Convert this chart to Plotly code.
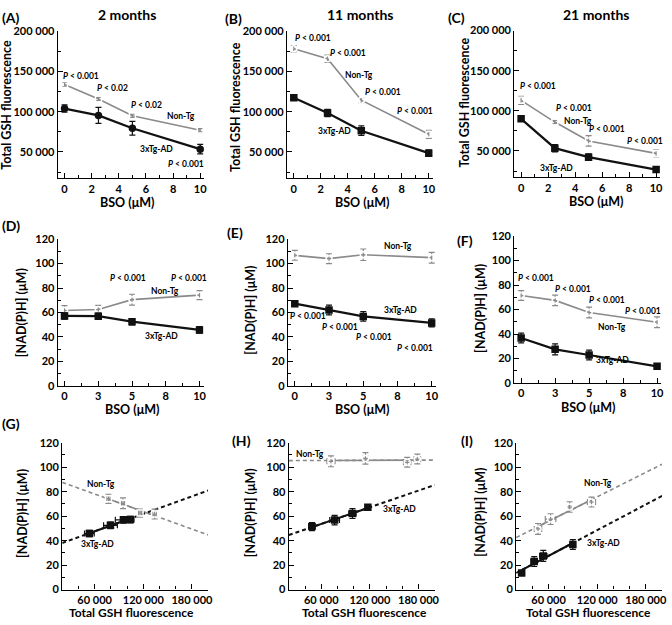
import numpy as np
import plotly.graph_objects as go

W, H = 672, 625
FONT = "Lato"

# ---------------- data ----------------
bso = [0, 2.5, 5, 10]

# Total GSH fluorescence (panels A-C)
gsh_nontg_2m = [134000, 116000, 95000, 77000]
gsh_nontg_2m_err = [2500, 2000, 2000, 2000]
gsh_tg_2m = [104000, 95500, 79500, 53500]
gsh_tg_2m_err = [4500, 10000, 8500, 6000]

gsh_nontg_11m = [178500, 166000, 114500, 72000]
gsh_nontg_11m_err = [4000, 4500, 3000, 5000]
gsh_tg_11m = [117500, 98500, 76500, 48500]
gsh_tg_11m_err = [2000, 4500, 6000, 4000]

gsh_nontg_21m = [113000, 86000, 62500, 47000]
gsh_nontg_21m_err = [5000, 2000, 6500, 4500]
gsh_tg_21m = [90000, 53500, 42300, 26800]
gsh_tg_21m_err = [2000, 4500, 4000, 3500]

# [NAD(P)H] (uM) (panels D-F)
nad_nontg_2m = [61.7, 62.5, 70.5, 74.2]
nad_nontg_2m_err = [4.0, 3.3, 4.4, 3.7]
nad_tg_2m = [57.2, 57.0, 52.5, 45.8]
nad_tg_2m_err = [2.6, 2.6, 2.6, 2.6]

nad_nontg_11m = [106.7, 104.0, 107.2, 104.8]
nad_nontg_11m_err = [4.0, 4.0, 4.7, 4.4]
nad_tg_11m = [67.2, 62.1, 56.8, 51.5]
nad_tg_11m_err = [2.0, 4.0, 3.9, 3.3]

nad_nontg_21m = [71.5, 67.5, 57.6, 49.6]
nad_nontg_21m_err = [4.0, 4.3, 4.4, 4.4]
nad_tg_21m = [36.8, 27.5, 22.9, 13.6]
nad_tg_21m_err = [4.0, 4.5, 4.0, 1.0]

titles = ["2 months", "11 months", "21 months"]
panel_letters = ["(A)", "(B)", "(C)", "(D)", "(E)", "(F)", "(G)", "(H)", "(I)"]

gsh_ticks = [50000, 100000, 150000, 200000]
gsh_ticktext = ["50 000", "100 000", "150 000", "200 000"]
gsh_minor = [25000, 75000, 125000, 175000]
nad_ticks = [0, 20, 40, 60, 80, 100, 120]
nad_minor = [10, 30, 50, 70, 90, 110]
bso_ticks_top = [0, 2, 4, 6, 8, 10]
bso_minor_top = [1, 3, 5, 7, 9]
bso_ticks_mid = [0, 2.5, 5, 7.5, 10]
bso_ticktext_mid = ["0", "3", "5", "8", "10"]
bso_minor_mid = [1.25, 3.75, 6.25, 8.75]
fl_ticks = [60000, 120000, 180000]
fl_ticktext = ["60 000", "120 000", "180 000"]
fl_minor = [40000, 80000, 100000, 140000, 160000, 200000]

GRAY = "#8a8a8a"
BLACK = "#111111"

# ---------------- layout geometry (pixels) ----------------
# each: (x_left, x_right, y_top, y_bottom)
geom = [
    (58.2, 205.8, 25, 175.1), (289.2, 436.1, 25, 175.1), (518.2, 665.1, 24, 174.1),
    (58.2, 205.1, 237, 387), (290.1, 439.1, 237, 387), (518.2, 666.1, 234, 384),
    (62.7, 209.7, 445, 595), (291, 438, 445, 595), (520, 667, 445, 595),
]

fig = go.Figure()
layout = {}

def axis_common():
    return dict(showline=True, linecolor="black", linewidth=1.3, ticks="inside",
                ticklen=5, tickwidth=1.3, tickcolor="black", showgrid=False,
                zeroline=False, mirror=False, fixedrange=True,
                tickfont=dict(family=FONT, size=11, color="black", weight="bold"))

def minor(vals):
    return dict(tickmode="array", tickvals=vals, ticks="inside", ticklen=3,
                tickwidth=1, tickcolor="black")

for i, (xl, xr, yt, yb) in enumerate(geom):
    n = i + 1
    xk = "xaxis" if n == 1 else f"xaxis{n}"
    yk = "yaxis" if n == 1 else f"yaxis{n}"
    xa = axis_common()
    ya = axis_common()
    xa.update(domain=[xl / W, xr / W], anchor="y" if n == 1 else f"y{n}")
    ya.update(domain=[1 - yb / H, 1 - yt / H], anchor="x" if n == 1 else f"x{n}")
    row = i // 3
    if row == 0:
        xa.update(range=[-0.5, 10.3], tickmode="array", tickvals=bso_ticks_top,
                  minor=minor(bso_minor_top))
        ya.update(range=[17000, 200000], tickmode="array", tickvals=gsh_ticks,
                  ticktext=gsh_ticktext, minor=minor(gsh_minor))
    elif row == 1:
        xa.update(range=[-0.5, 10.3], tickmode="array", tickvals=bso_ticks_mid,
                  ticktext=bso_ticktext_mid, minor=minor(bso_minor_mid))
        ya.update(range=[0, 120], tickmode="array", tickvals=nad_ticks,
                  minor=minor(nad_minor))
    else:
        xa.update(range=[20000, 200000], tickmode="array", tickvals=fl_ticks,
                  ticktext=fl_ticktext, minor=minor(fl_minor))
        ya.update(range=[0, 120], tickmode="array", tickvals=nad_ticks,
                  minor=minor(nad_minor))
    layout[xk] = xa
    layout[yk] = ya

def refs(n):
    return ("x" if n == 1 else f"x{n}", "y" if n == 1 else f"y{n}")

def line_trace(n, x, y, err, color, width, symbol, xerr=None, mode="lines+markers"):
    xr_, yr_ = refs(n)
    tr = go.Scatter(
        x=x, y=y, xaxis=xr_, yaxis=yr_, mode=mode, showlegend=False,
        line=dict(color=color, width=width),
        marker=dict(symbol=symbol, size=6, color=color if "open" not in symbol else "white",
                    line=dict(color=color, width=1.5)),
        error_y=dict(type="data", array=err, visible=True, color=color, thickness=1.2, width=3),
    )
    if xerr is not None:
        tr.error_x = dict(type="data", array=xerr, visible=True, color=color, thickness=1.2, width=3)
    fig.add_trace(tr)

# Row 1: GSH vs BSO
top = [
    (gsh_nontg_2m, gsh_nontg_2m_err, gsh_tg_2m, gsh_tg_2m_err, "square-open", "circle"),
    (gsh_nontg_11m, gsh_nontg_11m_err, gsh_tg_11m, gsh_tg_11m_err, "circle-open", "square"),
    (gsh_nontg_21m, gsh_nontg_21m_err, gsh_tg_21m, gsh_tg_21m_err, "square-open", "square"),
]
for k, (nt, nte, tg, tge, s1, s2) in enumerate(top):
    line_trace(k + 1, bso, nt, nte, GRAY, 1.6, s1)
    line_trace(k + 1, bso, tg, tge, BLACK, 2.2, s2)

# Row 2: NAD(P)H vs BSO
mid = [
    (nad_nontg_2m, nad_nontg_2m_err, nad_tg_2m, nad_tg_2m_err),
    (nad_nontg_11m, nad_nontg_11m_err, nad_tg_11m, nad_tg_11m_err),
    (nad_nontg_21m, nad_nontg_21m_err, nad_tg_21m, nad_tg_21m_err),
]
for k, (nt, nte, tg, tge) in enumerate(mid):
    line_trace(k + 4, bso, nt, nte, GRAY, 1.6, "circle-open")
    line_trace(k + 4, bso, tg, tge, BLACK, 2.2, "square")

# Row 3: NAD(P)H vs GSH with regression lines
def regression(n, x, y, color, width):
    xr_, yr_ = refs(n)
    slope, icpt = np.polyfit(np.array(x, float), np.array(y, float), 1)
    xf = np.array([20000.0, 200000.0])
    fig.add_trace(go.Scatter(x=xf, y=slope * xf + icpt, xaxis=xr_, yaxis=yr_, mode="lines",
                             showlegend=False, line=dict(color=color, width=width, dash="4px,3px")))
    xs = np.array([min(x), max(x)], float)
    fig.add_trace(go.Scatter(x=xs, y=slope * xs + icpt, xaxis=xr_, yaxis=yr_, mode="lines",
                             showlegend=False, line=dict(color=color, width=width)))

bottom = [
    (top[0], mid[0], "square-open"),
    (top[1], mid[1], "circle-open"),
    (top[2], mid[2], "circle-open"),
]
for k, (t, m, s1) in enumerate(bottom):
    n = k + 7
    regression(n, t[0], m[0], GRAY, 1.6)
    regression(n, t[2], m[2], BLACK, 2.0)
    line_trace(n, t[0], m[0], m[1], GRAY, 1.6, s1, xerr=t[1], mode="markers")
    line_trace(n, t[2], m[2], m[3], BLACK, 2.0, "square", xerr=t[3], mode="markers")

# ---------------- text ----------------
ann = []

def txt(text, px, py, size=8.5, angle=0, xanchor="center"):
    ann.append(dict(text=text, x=px / W, y=1 - py / H, xref="paper", yref="paper",
                    showarrow=False, xanchor=xanchor, yanchor="middle", textangle=angle,
                    font=dict(family=FONT, size=size, color="black", weight="bold")))

P = "<i>P</i> &lt; "
# titles
txt(titles[0], 128, 8, 14)
txt(titles[1], 363, 8, 14)
txt(titles[2], 600, 8, 14)
# panel letters
for lab, (px, py) in zip(panel_letters, [(11, 11), (235, 12), (460, 11), (11, 223), (237, 230),
                                          (468, 238), (11, 425), (243, 443), (470, 443)]):
    txt(lab, px, py, 14)
# axis titles
for px, py in [(7, 100), (238, 102), (468, 98)]:
    txt("Total GSH fluorescence", px, py, 12.5, -90)
for px, py in [(22, 312), (252, 310), (484, 308), (22, 517), (252, 517), (484, 516)]:
    txt("[NAD(P)H] (μM)", px, py, 12.5, -90)
for px, py in [(128, 200), (365, 200), (600, 199), (133, 411), (365, 411), (592, 409)]:
    txt("BSO (μM)", px, py, 12.5)
for px, py in [(132, 618), (367, 618), (593, 618)]:
    txt("Total GSH fluorescence", px, py, 12)

# panel A
txt(P + "0.001", 82, 70); txt(P + "0.02", 113, 83); txt(P + "0.02", 148, 100)
txt("Non-Tg", 182, 111); txt("3xTg-AD", 158, 145); txt(P + "0.001", 187, 160)
# panel B
txt(P + "0.001", 315, 32); txt(P + "0.001", 351, 47); txt("Non-Tg", 362, 69)
txt(P + "0.001", 386, 87); txt(P + "0.001", 418, 106); txt("3xTg-AD", 337, 127)
# panel C
txt(P + "0.001", 542, 81); txt(P + "0.001", 578, 103); txt("Non-Tg", 582, 116)
txt(P + "0.001", 612, 125); txt(P + "0.001", 650, 137); txt("3xTg-AD", 561, 164)
# panel D
txt(P + "0.001", 129, 277); txt(P + "0.001", 190, 277); txt("Non-Tg", 166, 290)
txt("3xTg-AD", 163, 336)
# panel E
txt("Non-Tg", 401, 244); txt("3xTg-AD", 403, 309)
txt(P + "0.001", 310, 316); txt(P + "0.001", 343, 327); txt(P + "0.001", 377, 337)
txt(P + "0.001", 418, 348)
# panel F
txt(P + "0.001", 540, 277); txt(P + "0.001", 577, 288); txt(P + "0.001", 612, 299)
txt(P + "0.001", 648, 310); txt("Non-Tg", 617, 327); txt("3xTg-AD", 617, 360)
# panels G-I
txt("Non-Tg", 102, 487); txt("3xTg-AD", 98, 548)
txt("Non-Tg", 312, 457); txt("3xTg-AD", 402, 513)
txt("Non-Tg", 602, 486); txt("3xTg-AD", 608, 547)

fig.update_layout(width=W, height=H, margin=dict(l=0, r=0, t=0, b=0),
                  paper_bgcolor="white", plot_bgcolor="white", showlegend=False,
                  annotations=ann, font=dict(family=FONT), **layout)

fig.write_html("out.html", config={"displayModeBar": False},
               post_script="document.body.style.margin='0';document.body.style.overflow='hidden';")
